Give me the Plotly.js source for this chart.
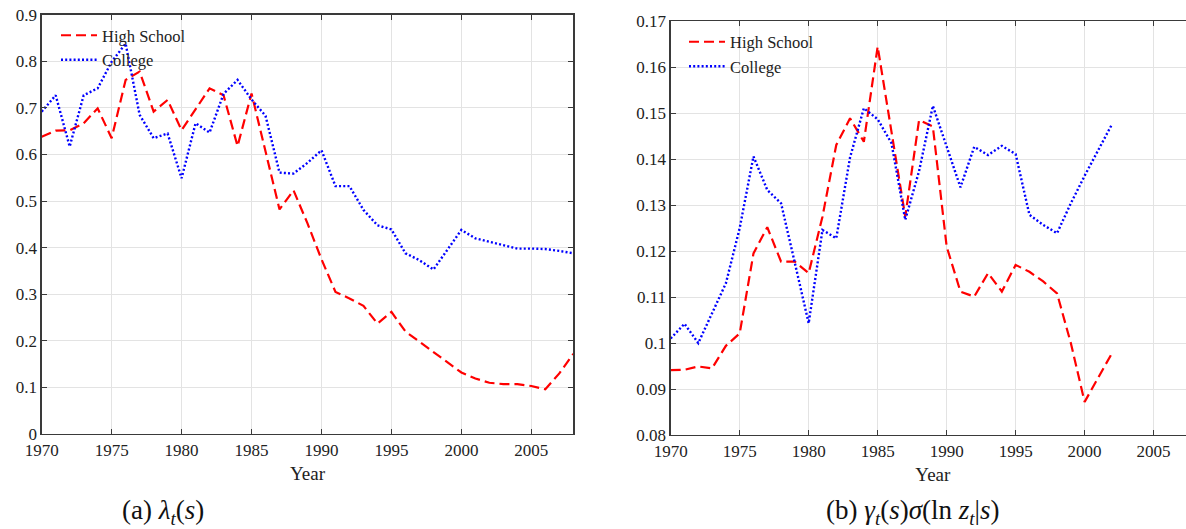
<!DOCTYPE html>
<html>
<head>
<meta charset="utf-8">
<script src="https://cdn.plot.ly/plotly-3.0.1.min.js"></script>
<style>
html,body{margin:0;padding:0;overflow:hidden;background:#fff;width:1186px;height:529px;}
#chart{width:1196px;height:529px;}
</style>
</head>
<body>
<div id="chart"></div>
<script>
// ---- Data ----
const yearsA = [1970,1971,1972,1973,1974,1975,1976,1977,1978,1979,1980,1981,1982,1983,1984,1985,1986,1987,1988,1989,1990,1991,1992,1993,1994,1995,1996,1997,1998,1999,2000,2001,2002,2003,2004,2005,2006,2007,2008];
const lambdaHighSchool = [0.638,0.651,0.652,0.667,0.699,0.635,0.760,0.778,0.692,0.717,0.652,0.697,0.742,0.727,0.618,0.731,0.609,0.482,0.523,0.452,0.375,0.305,0.291,0.275,0.237,0.262,0.220,0.198,0.177,0.155,0.132,0.119,0.110,0.107,0.107,0.103,0.096,0.130,0.172];
const lambdaCollege = [0.692,0.727,0.617,0.727,0.742,0.799,0.838,0.685,0.635,0.645,0.549,0.667,0.647,0.730,0.760,0.718,0.683,0.561,0.559,0.582,0.609,0.532,0.532,0.481,0.448,0.439,0.388,0.373,0.353,0.395,0.438,0.420,0.413,0.406,0.398,0.398,0.397,0.393,0.388];

const yearsB = [1970,1971,1972,1973,1974,1975,1976,1977,1978,1979,1980,1981,1982,1983,1984,1985,1986,1987,1988,1989,1990,1991,1992,1993,1994,1995,1996,1997,1998,1999,2000,2001,2002];
const gammaHighSchool = [0.0941,0.0942,0.0949,0.0945,0.0994,0.1021,0.1195,0.1252,0.1177,0.1177,0.1152,0.1275,0.1431,0.1489,0.1438,0.1645,0.1460,0.1275,0.1485,0.1471,0.1210,0.1112,0.1101,0.1152,0.1112,0.1170,0.1155,0.1134,0.1108,0.1000,0.0872,0.0927,0.0979];
const gammaCollege = [0.1010,0.1042,0.1000,0.1065,0.1130,0.1250,0.1406,0.1333,0.1304,0.1174,0.1043,0.1246,0.1228,0.1404,0.1511,0.1487,0.1435,0.1268,0.1374,0.1516,0.1425,0.1339,0.1427,0.1409,0.1429,0.1411,0.1279,0.1257,0.1239,0.1304,0.1364,0.1420,0.1477];

const xTickVals = [1970,1975,1980,1985,1990,1995,2000,2005];
const xTickText = ["1970","1975","1980","1985","1990","1995","2000","2005"];
const yTickValsA = [0,0.1,0.2,0.3,0.4,0.5,0.6,0.7,0.8,0.9];
const yTickTextA = ["0","0.1","0.2","0.3","0.4","0.5","0.6","0.7","0.8","0.9"];
const yTickValsB = [0.08,0.09,0.10,0.11,0.12,0.13,0.14,0.15,0.16,0.17];
const yTickTextB = ["0.08","0.09","0.1","0.11","0.12","0.13","0.14","0.15","0.16","0.17"];

const seriesNames = ["High School","College"];
const captionA = "(a) <i>λ<sub>t</sub></i>(<i>s</i>)";
const captionB = "(b) <i>γ<sub>t</sub></i>(<i>s</i>)<i>σ</i>(ln <i>z<sub>t</sub></i>|<i>s</i>)";

// ---- Styles ----
const FONT = "'Liberation Serif', 'Times New Roman', Times, serif";
const redLine = {color:"#ff0000", width:2.2, dash:"10px,5px"};
const blueLine = {color:"#0000ff", width:2.4, dash:"2px,2.2px"};

const traces = [
  {x:yearsA, y:lambdaHighSchool, name:seriesNames[0], mode:"lines", line:redLine, xaxis:"x", yaxis:"y", legend:"legend"},
  {x:yearsA, y:lambdaCollege, name:seriesNames[1], mode:"lines", line:blueLine, xaxis:"x", yaxis:"y", legend:"legend"},
  {x:yearsB, y:gammaHighSchool, name:seriesNames[0], mode:"lines", line:redLine, xaxis:"x2", yaxis:"y2", legend:"legend2"},
  {x:yearsB, y:gammaCollege, name:seriesNames[1], mode:"lines", line:blueLine, xaxis:"x2", yaxis:"y2", legend:"legend2"}
];

const W = 1196, H = 529;
function axisBase(){
  return {
    showline:true, linecolor:"#3a3a3a", linewidth:1.3, mirror:"ticks",
    ticks:"inside", ticklen:5, tickwidth:1, tickcolor:"#3a3a3a",
    showgrid:true, gridcolor:"#e3e3e3", gridwidth:1, zeroline:false,
    tickfont:{family:FONT, size:17, color:"#222"}, fixedrange:true
  };
}
const xA = Object.assign(axisBase(), {domain:[41.7/W, 573.3/W], range:[1970,2008], tickmode:"array", tickvals:xTickVals, ticktext:xTickText, anchor:"y",
  title:{text:"Year", font:{family:FONT, size:19, color:"#222"}, standoff:8}});
const yA = Object.assign(axisBase(), {domain:[(H-434)/H, (H-14.7)/H], range:[0,0.9], tickmode:"array", tickvals:yTickValsA, ticktext:yTickTextA, anchor:"x"});
const xB = Object.assign(axisBase(), {domain:[670.7/W, 1195/W], range:[1970,2008], tickmode:"array", tickvals:xTickVals, ticktext:xTickText, anchor:"y2",
  title:{text:"Year", font:{family:FONT, size:19, color:"#222"}, standoff:8}});
const yB = Object.assign(axisBase(), {domain:[(H-435)/H, (H-21.3)/H], range:[0.08,0.17], tickmode:"array", tickvals:yTickValsB, ticktext:yTickTextB, anchor:"x2"});

const legendBase = {
  bgcolor:"rgba(0,0,0,0)", borderwidth:0, font:{family:FONT, size:16.5, color:"#222"},
  xanchor:"left", yanchor:"top", itemwidth:36, tracegroupgap:0, xref:"paper", yref:"paper"
};

const layout = {
  width:W, height:H, margin:{l:0,r:0,t:0,b:0}, paper_bgcolor:"#fff", plot_bgcolor:"#fff",
  font:{family:FONT, color:"#222"},
  xaxis:xA, yaxis:yA, xaxis2:xB, yaxis2:yB,
  showlegend:true,
  legend:Object.assign({}, legendBase, {x:56/W, y:(H-18)/H}),
  legend2:Object.assign({}, legendBase, {x:684/W, y:(H-24.5)/H}),
  annotations:[
    {text:captionA, xref:"paper", yref:"paper", x:163/W, y:(H-512)/H, xanchor:"center", yanchor:"middle", showarrow:false, font:{family:FONT, size:27, color:"#111"}},
    {text:captionB, xref:"paper", yref:"paper", x:912/W, y:(H-512)/H, xanchor:"center", yanchor:"middle", showarrow:false, font:{family:FONT, size:27, color:"#111"}}
  ]
};

Plotly.newPlot("chart", traces, layout, {staticPlot:true, displayModeBar:false});
</script>
</body>
</html>
